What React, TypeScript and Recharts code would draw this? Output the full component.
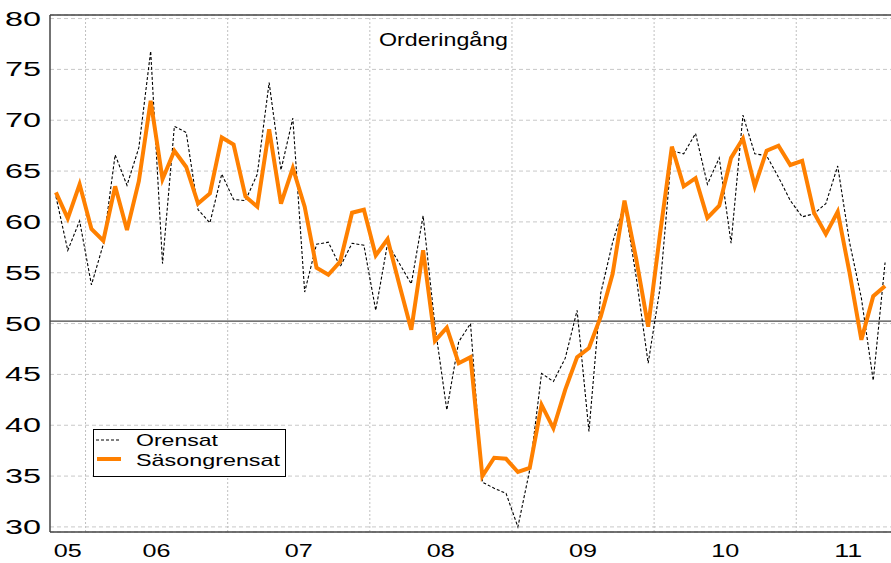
import React from "react";
import {
  LineChart,
  Line,
  XAxis,
  YAxis,
  CartesianGrid,
  ReferenceLine,
  Legend,
} from "recharts";

// månadsdata okt 2005 - aug 2011
const orensat = [
  62.5, 57.2, 60.1,
  53.8, 57.8, 66.6, 63.6, 67.3, 76.8, 55.9, 69.4, 68.8, 61.2, 59.9, 64.7,
  62.2, 62.1, 64.7, 73.7, 65.1, 70.2, 53.1, 57.8, 58.0, 55.6, 57.9, 57.7,
  51.3, 57.9, 55.9, 53.9, 60.6, 49.8, 41.5, 48.2, 50.0, 34.4, 33.8, 33.3,
  30.0, 35.6, 45.1, 44.3, 46.6, 51.3, 39.4, 53.0, 58.0, 61.8, 54.5, 46.1,
  53.5, 67.0, 66.7, 68.7, 63.7, 66.3, 57.9, 70.5, 66.7, 66.5, 64.4, 62.1,
  60.5, 60.8, 61.8, 65.5, 58.0, 52.5, 44.4, 56.0,
];

const sasongrensat = [
  62.9, 60.35, 63.7,
  59.3, 58.15, 63.5, 59.2, 64.0, 71.9, 64.2, 67.0, 65.4, 61.8, 62.8, 68.3,
  67.6, 62.5, 61.5, 69.1, 61.8, 65.3, 61.5, 55.5, 54.8, 56.1, 60.9, 61.2,
  56.7, 58.3, 53.8, 49.4, 57.2, 48.3, 49.6, 46.1, 46.7, 35.0, 36.8, 36.7,
  35.4, 35.8, 42.0, 39.7, 43.5, 46.7, 47.6, 50.7, 54.9, 62.1, 56.3, 49.7,
  58.8, 67.4, 63.5, 64.3, 60.4, 61.6, 66.3, 68.2, 63.5, 67.0, 67.5, 65.6,
  66.0, 60.9, 58.8, 61.0, 55.0, 48.4, 52.7, 53.7,
];

const yearLabels = ["05", "06", "07", "08", "09", "10", "11"];
const yearLabelPos = [1.5, 9, 21, 33, 45, 57, 67.4];
const yearStarts = [0, 3, 15, 27, 39, 51, 63];
const yTicks = [30, 35, 40, 45, 50, 55, 60, 65, 70, 75, 80];

const data = orensat.map((v, i) => ({
  x: i + 0.5,
  orensat: v,
  sasong: sasongrensat[i],
}));

const FONT = "'Liberation Sans', Arial, sans-serif";

function YTick({ x, y, payload }: any) {
  return (
    <text
      x={x - 1}
      y={y}
      dy={7}
      textAnchor="end"
      fontSize={19.5}
      fontFamily={FONT}
      fill="#000"
      textLength={36}
      lengthAdjust="spacingAndGlyphs"
    >
      {payload.value}
    </text>
  );
}

function XTick({ x, index }: any) {
  return (
    <text
      x={x}
      y={557}
      textAnchor="middle"
      fontSize={18.6}
      fontFamily={FONT}
      fill="#000"
      textLength={28}
      lengthAdjust="spacingAndGlyphs"
    >
      {yearLabels[index]}
    </text>
  );
}

function LegendBox() {
  return (
    <svg width={194} height={49} style={{ display: "block" }}>
      <rect x={0.5} y={0.5} width={192} height={47} fill="#fff" stroke="#000" />
      <line x1={3} x2={28} y1={11} y2={11} stroke="#000" strokeDasharray="3 2" />
      <line x1={4} x2={28} y1={30} y2={30} stroke="#ff8000" strokeWidth={4} />
      <text x={43} y={17} fontSize={17} fontFamily={FONT} textLength={82} lengthAdjust="spacingAndGlyphs">
        Orensat
      </text>
      <text x={43} y={37} fontSize={17} fontFamily={FONT} textLength={144} lengthAdjust="spacingAndGlyphs">
        Säsongrensat
      </text>
    </svg>
  );
}

export default function App() {
  return (
    <div style={{ position: "absolute", left: 0, top: 0, width: 891, height: 563, background: "#fff" }}>
      <LineChart
        width={891}
        height={563}
        data={data}
        margin={{ top: 15, right: 0, bottom: 0, left: 0 }}
      >
        <CartesianGrid vertical={false} stroke="#c8c8c8" strokeDasharray="4 3" />
        <XAxis
          xAxisId="marks"
          dataKey="x"
          type="number"
          domain={[0, 71]}
          ticks={yearStarts}
          interval={0}
          height={0}
          axisLine={false}
          tick={false}
          tickSize={5}
          tickLine={{ stroke: "#333", strokeWidth: 1.5 }}
        />
        <XAxis
          dataKey="x"
          type="number"
          domain={[0, 71]}
          ticks={yearLabelPos}
          interval={0}
          height={31}
          tickLine={false}
          axisLine={{ stroke: "#444", strokeWidth: 1.5 }}
          tick={<XTick />}
        />
        <YAxis
          width={50}
          domain={[29.5, 80.35]}
          ticks={yTicks}
          interval={0}
          allowDataOverflow
          tickLine={false}
          axisLine={{ stroke: "#444", strokeWidth: 1.5 }}
          tick={<YTick />}
        />
        {yearStarts.slice(1).map((b) => (
          <ReferenceLine key={b} x={b} stroke="#c0c0c0" strokeDasharray="2 2" />
        ))}
        <ReferenceLine y={80.35} stroke="#444" strokeWidth={1.5} />
        <ReferenceLine y={50.25} stroke="#444" strokeWidth={1.2} />
        <Legend
          layout="vertical"
          align="center"
          verticalAlign="middle"
          wrapperStyle={{ position: "absolute", left: 93, top: 429, width: 194, height: 49 }}
          content={() => <LegendBox />}
        />
        <Line
          dataKey="orensat"
          type="linear"
          stroke="#000"
          strokeWidth={1.1}
          strokeDasharray="3 2"
          dot={false}
          isAnimationActive={false}
        />
        <Line
          dataKey="sasong"
          type="linear"
          stroke="#ff8000"
          strokeWidth={4}
          dot={false}
          isAnimationActive={false}
        />
      </LineChart>
      <svg
        width={891}
        height={563}
        style={{ position: "absolute", left: 0, top: 0, pointerEvents: "none" }}
      >
        <text x={379} y={46} fontSize={19} fontFamily={FONT} fill="#000" textLength={129} lengthAdjust="spacingAndGlyphs">
          Orderingång
        </text>
      </svg>
    </div>
  );
}
